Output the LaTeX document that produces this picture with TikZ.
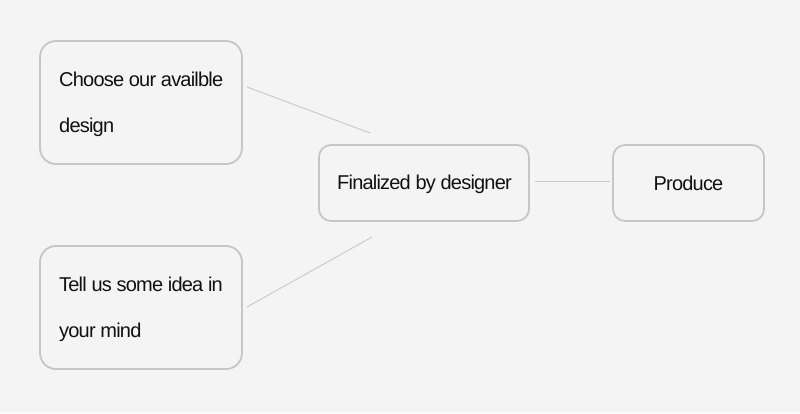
\documentclass[tikz,border=0pt]{standalone}
\usepackage{fontspec}
\setmainfont{Liberation Sans}[LetterSpace=-4]
\definecolor{bg}{HTML}{F4F4F4}
\definecolor{boxline}{HTML}{C6C6C6}
\definecolor{conn}{HTML}{C8C8C8}
\definecolor{txt}{HTML}{111111}
\begin{document}
\begin{tikzpicture}[x=1pt,y=-1pt,
  box/.style={draw=boxline,line width=1.8pt,rounded corners=#1,inner sep=0pt},
  box/.default=16pt,
  lbl/.style={text=txt,font=\fontsize{20}{46}\selectfont,align=left,inner sep=0pt},
  link/.style={draw=conn,line width=0.9pt}]
\fill[bg] (0,0) rectangle (800,413);
\useasboundingbox (0,0) rectangle (800,413);
\node[box, minimum width=202pt, minimum height=123pt] (choose) at (141,102.5) {};
\node[box, minimum width=202pt, minimum height=123pt] (tell) at (141,307.5) {};
\node[box=12pt, minimum width=210pt, minimum height=76pt] (final) at (424,183) {};
\node[box=12pt, minimum width=151pt, minimum height=76pt] (produce) at (688.5,183) {};
\node[lbl, anchor=base west] (t1) at (59,86) {Choose our availble};
\node[lbl, anchor=base west] (t1b) at (59,132) {design};
\node[lbl, anchor=base west] (t2) at (59,291) {Tell us some idea in};
\node[lbl, anchor=base west] (t2b) at (59,337) {your mind};
\node[lbl, anchor=base] (t3) at (424.5,189) {Finalized by designer};
\node[lbl, anchor=base] (t4) at (688.5,190) {Produce};
\coordinate (c1a) at (247,87);
\coordinate (c1b) at (370,133);
\coordinate (c2a) at (247,307);
\coordinate (c2b) at (372,237);
\coordinate (c3a) at (535,181);
\coordinate (c3b) at (610,181);
\draw[link] (c1a) -- (c1b);
\draw[link] (c2a) -- (c2b);
\draw[link] (c3a) -- (c3b);
\end{tikzpicture}
\end{document}
